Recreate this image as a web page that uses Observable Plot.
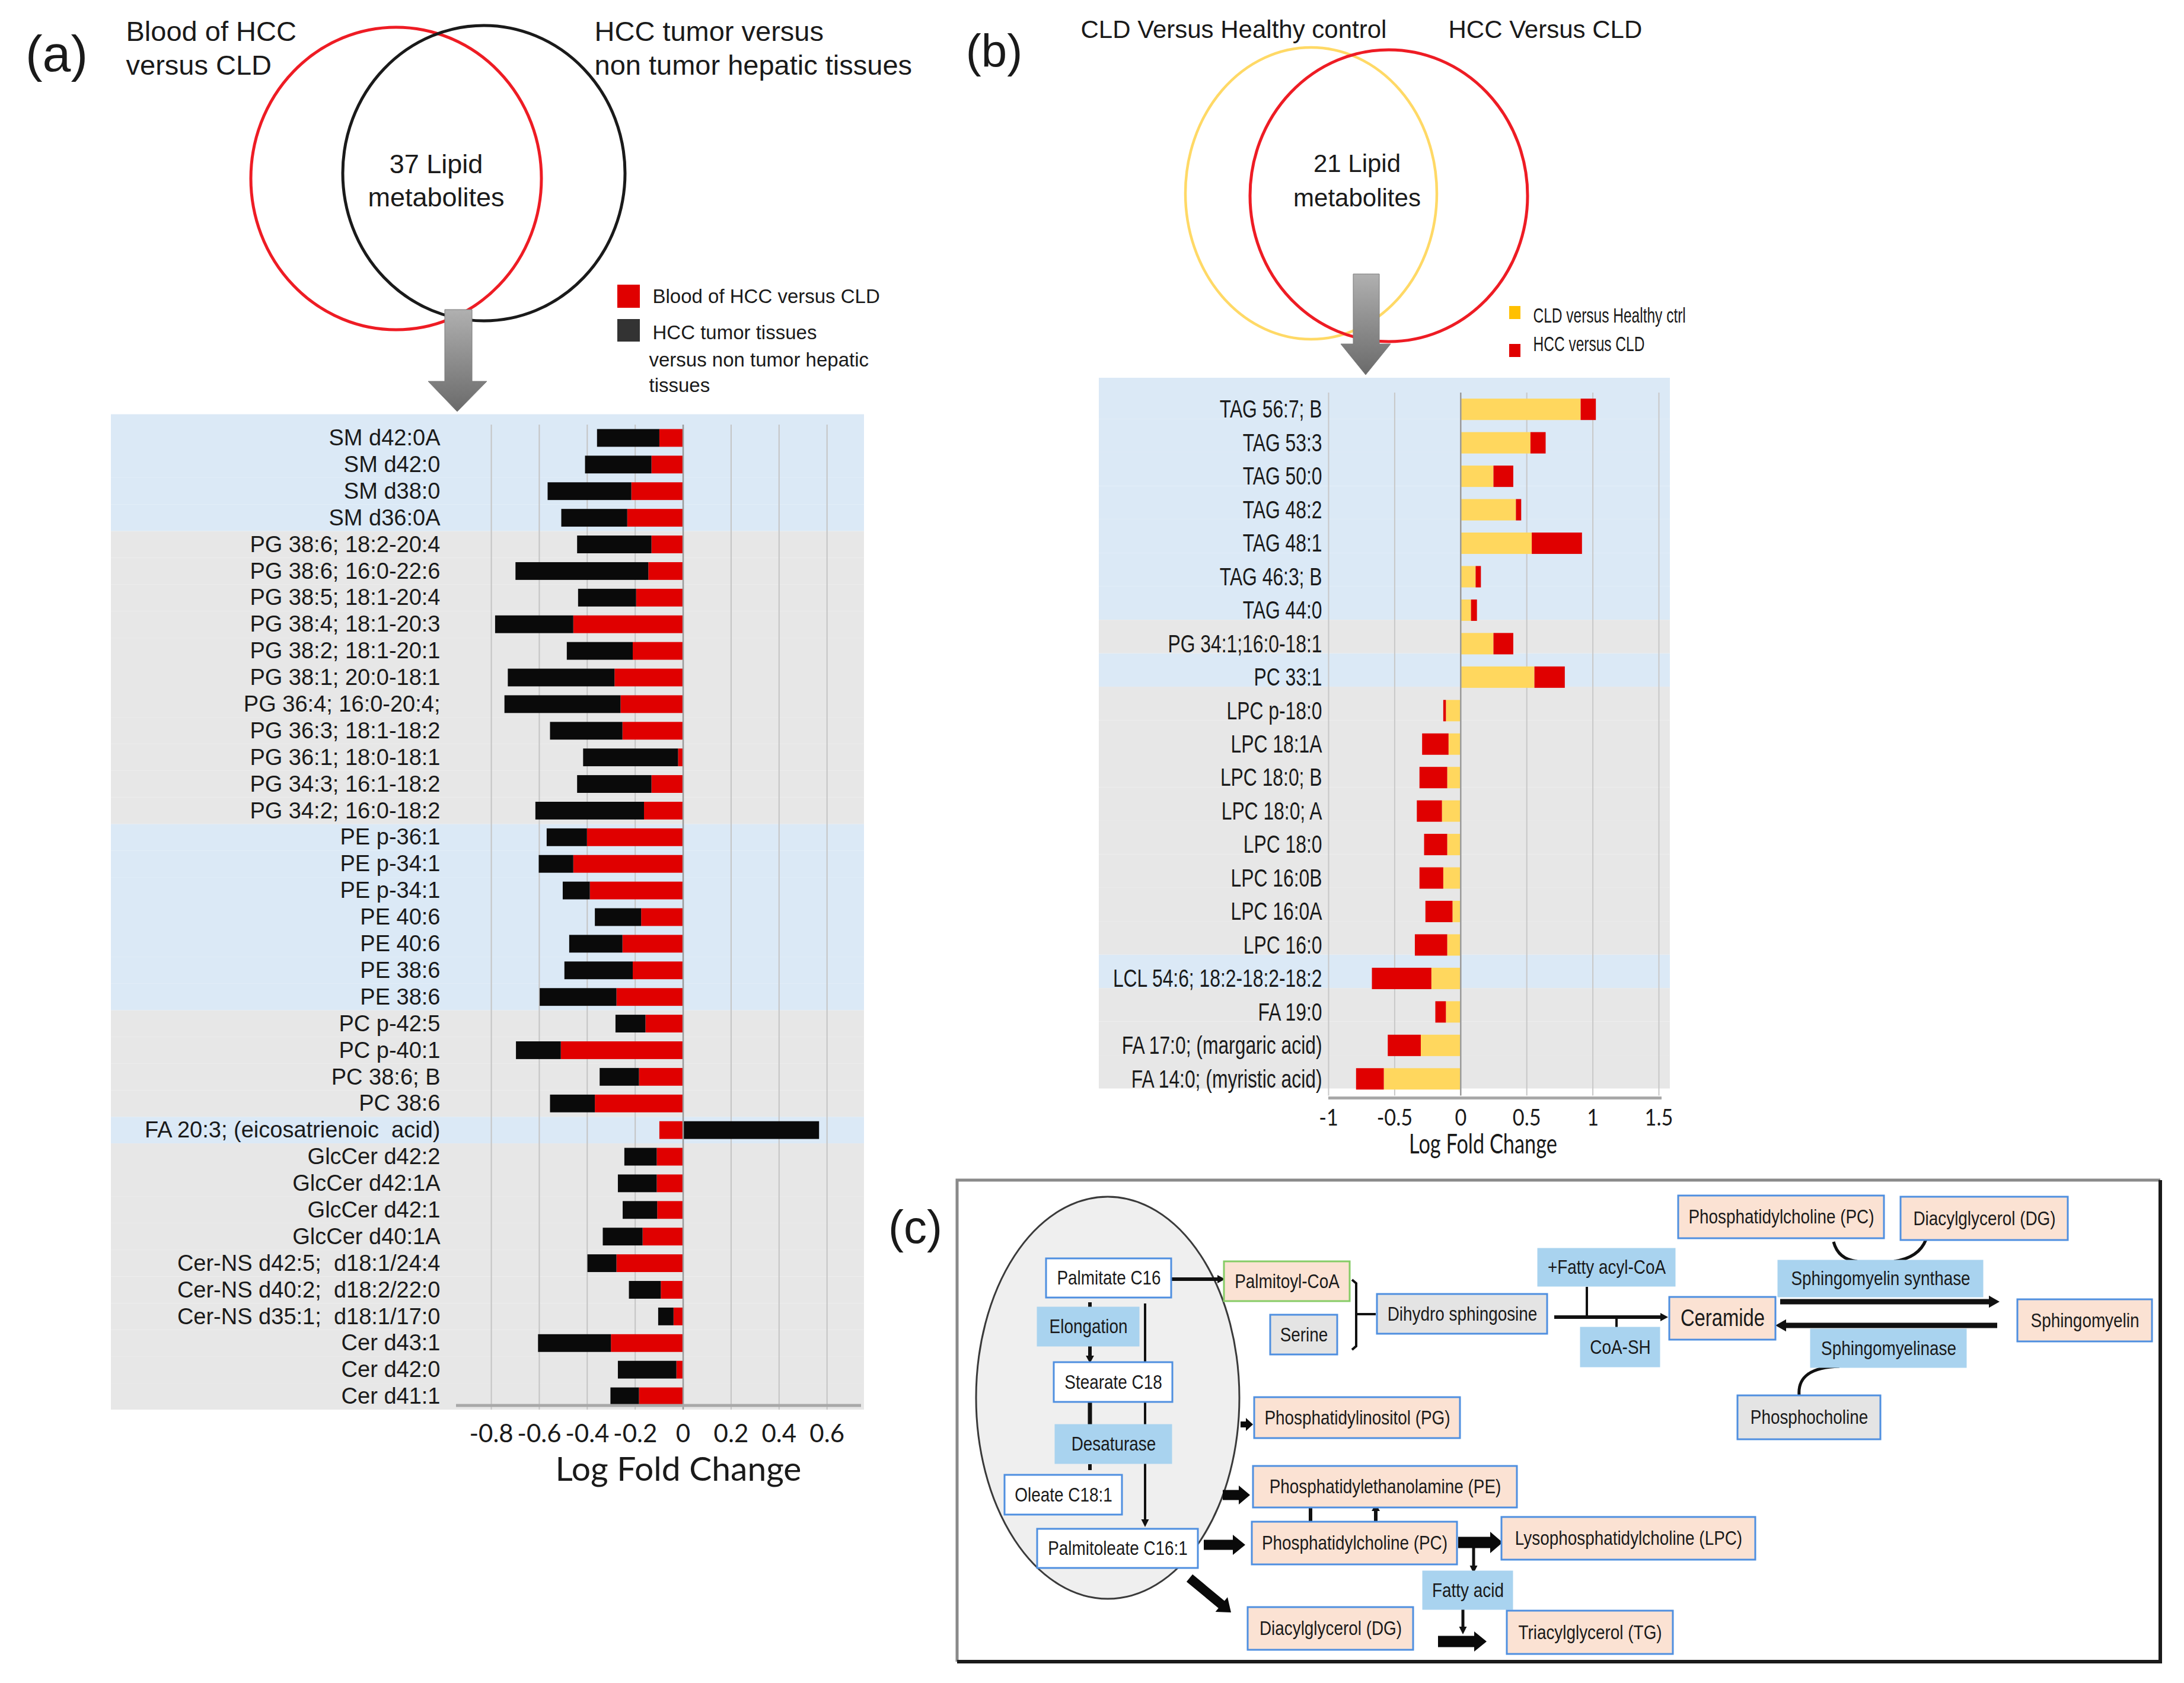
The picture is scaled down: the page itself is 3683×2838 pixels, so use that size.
<!DOCTYPE html>
<html><head><meta charset="utf-8">
<script src="https://cdn.jsdelivr.net/npm/d3@7"></script>
<script src="https://cdn.jsdelivr.net/npm/@observablehq/plot@0.6"></script>
<style>
html,body{margin:0;padding:0;background:#fff;}
#page{position:relative;width:3683px;height:2838px;overflow:hidden;background:#fff;}
#page svg{position:absolute;overflow:visible;}
</style></head><body><div id="page"></div>
<script>
// ================= DATA =================
// Panel (a): 37 lipid metabolites
const lipidsA = ["SM d42:0A","SM d42:0","SM d38:0","SM d36:0A",
  "PG 38:6; 18:2-20:4","PG 38:6; 16:0-22:6","PG 38:5; 18:1-20:4","PG 38:4; 18:1-20:3","PG 38:2; 18:1-20:1",
  "PG 38:1; 20:0-18:1","PG 36:4; 16:0-20:4;","PG 36:3; 18:1-18:2","PG 36:1; 18:0-18:1","PG 34:3; 16:1-18:2","PG 34:2; 16:0-18:2",
  "PE p-36:1","PE p-34:1","PE p-34:1","PE 40:6","PE 40:6","PE 38:6","PE 38:6",
  "PC p-42:5","PC p-40:1","PC 38:6; B","PC 38:6",
  "FA 20:3; (eicosatrienoic\u00a0 acid)",
  "GlcCer d42:2","GlcCer d42:1A","GlcCer d42:1","GlcCer d40:1A",
  "Cer-NS d42:5;\u00a0 d18:1/24:4","Cer-NS d40:2;\u00a0 d18:2/22:0","Cer-NS d35:1;\u00a0 d18:1/17:0",
  "Cer d43:1","Cer d42:0","Cer d41:1"];
const groupsA = ["SM","SM","SM","SM",
  "PG","PG","PG","PG","PG","PG","PG","PG","PG","PG","PG",
  "PE","PE","PE","PE","PE","PE","PE",
  "PC","PC","PC","PC",
  "FA",
  "GlcCer","GlcCer","GlcCer","GlcCer",
  "Cer-NS","Cer-NS","Cer-NS",
  "Cer","Cer","Cer"];
const seriesA = ["Blood of HCC versus CLD", "HCC tumor tissues versus non tumor hepatic tissues"];
const bloodHCCvsCLD = [-0.098,-0.131,-0.215,-0.232,
  -0.131,-0.144,-0.195,-0.457,-0.209,-0.285,-0.26,-0.252,-0.02,-0.131,-0.162,
  -0.40,-0.457,-0.388,-0.174,-0.252,-0.209,-0.277,
  -0.156,-0.509,-0.183,-0.367,
  -0.098,
  -0.109,-0.109,-0.107,-0.168,
  -0.277,-0.092,-0.039,
  -0.30,-0.027,-0.183];
const tumorVsNonTumor = [-0.26,-0.277,-0.349,-0.275,
  -0.31,-0.554,-0.242,-0.326,-0.275,-0.445,-0.484,-0.302,-0.396,-0.31,-0.453,
  -0.168,-0.144,-0.113,-0.193,-0.222,-0.285,-0.32,
  -0.125,-0.187,-0.164,-0.187,
  0.568,
  -0.135,-0.162,-0.144,-0.166,
  -0.121,-0.133,-0.064,
  -0.304,-0.244,-0.119];
const ticksA = [-0.8,-0.6,-0.4,-0.2,0,0.2,0.4,0.6];

// Panel (b): 21 lipid metabolites
const lipidsB = ["TAG 56:7; B","TAG 53:3","TAG 50:0","TAG 48:2","TAG 48:1","TAG 46:3; B","TAG 44:0",
  "PG 34:1;16:0-18:1","PC 33:1",
  "LPC p-18:0","LPC 18:1A","LPC 18:0; B","LPC 18:0; A","LPC 18:0","LPC 16:0B","LPC 16:0A","LPC 16:0",
  "LCL 54:6; 18:2-18:2-18:2",
  "FA 19:0","FA 17:0; (margaric acid)","FA 14:0; (myristic acid)"];
const groupsB = ["TAG","TAG","TAG","TAG","TAG","TAG","TAG","PG","PC",
  "LPC","LPC","LPC","LPC","LPC","LPC","LPC","LPC","LCL","FA","FA","FA"];
const seriesB = ["CLD versus Healthy ctrl", "HCC versus CLD"];
const cldVsHealthy = [0.91,0.53,0.25,0.42,0.54,0.115,0.08,0.25,0.56,
  -0.11,-0.09,-0.10,-0.14,-0.10,-0.13,-0.06,-0.10,-0.22,-0.11,-0.30,-0.58];
const hccVsCld = [0.115,0.115,0.15,0.04,0.38,0.04,0.045,0.15,0.23,
  -0.02,-0.20,-0.21,-0.19,-0.175,-0.18,-0.205,-0.245,-0.45,-0.08,-0.25,-0.21];
const ticksB = [-1,-0.5,0,0.5,1,1.5];

// ================= STYLE =================
const ARIAL = "'Liberation Sans', Arial, Helvetica, sans-serif";
const CALIBRI = "Lato, 'Open Sans', sans-serif";
const RED = "#e00000", BLACK = "#0a0a0a", YELLOW = "#ffd75e";
const BAND_BLUE = "#dbe9f6", BAND_GRAY = "#e7e7e7";
const bandA = {SM: BAND_BLUE, PG: BAND_GRAY, PE: BAND_BLUE, PC: BAND_GRAY, FA: BAND_BLUE, GlcCer: BAND_GRAY, "Cer-NS": BAND_GRAY, Cer: BAND_GRAY};
const bandB = {TAG: BAND_BLUE, PG: BAND_GRAY, PC: BAND_BLUE, LPC: BAND_GRAY, LCL: BAND_BLUE, FA: BAND_GRAY};
const fmt = d => d === 0 ? "0" : String(d);

const page = document.getElementById("page");
function place(svg, left, top) {
  svg.style.left = left + "px"; svg.style.top = top + "px";
  page.appendChild(svg);
  return svg;
}
function condenseNodes(nodes, k) {
  nodes.forEach(t => {
    const w = t.getComputedTextLength();
    if (w > 0) { t.setAttribute("textLength", (w * k).toFixed(1)); t.setAttribute("lengthAdjust", "spacingAndGlyphs"); }
  });
}
function condense(root, selector, k) { condenseNodes(Array.from(root.querySelectorAll(selector)), k); }
const axisLine = (dy, extraL, extraR, color, w) => (index, scales, values, dims) => {
  const y = dims.height - dims.marginBottom + dy;
  return d3.create("svg:line")
    .attr("x1", dims.marginLeft - extraL).attr("x2", dims.width - dims.marginRight + extraR)
    .attr("y1", y).attr("y2", y).attr("stroke", color).attr("stroke-width", w).node();
};

// ================= DECOR (Venn diagrams, legends, panel letters) =================
const vennEllipses = [
  {cx: 668, cy: 301, rx: 245, ry: 255, stroke: "#ee1c24", w: 5},
  {cx: 816, cy: 292, rx: 238, ry: 249, stroke: "#1a1a1a", w: 5},
  {cx: 2211, cy: 326, rx: 212, ry: 246, stroke: "#ffd966", w: 4.5},
  {cx: 2342, cy: 330, rx: 234, ry: 246, stroke: "#ee1c24", w: 5}
];
const vennArrows = [
  [[750,522],[796,522],[796,643],[821,643],[771,694],[722,643],[750,643]],
  [[2282,462],[2326,462],[2326,580],[2345,580],[2303,632],[2261,580],[2282,580]]
];
const decorTextStart = [
  {t: "Blood of HCC", x: 212, y: 53, s: 47},
  {t: "versus CLD", x: 212, y: 110, s: 47},
  {t: "HCC tumor versus", x: 1002, y: 53, s: 47},
  {t: "non tumor hepatic tissues", x: 1002, y: 110, s: 47},
  {t: "Blood of HCC versus CLD", x: 1100, y: 500, s: 33},
  {t: "HCC tumor tissues", x: 1100, y: 561, s: 33},
  {t: "versus non tumor hepatic", x: 1094, y: 607, s: 33},
  {t: "tissues", x: 1094, y: 650, s: 33},
  {t: "CLD Versus Healthy control", x: 1822, y: 50, s: 42},
  {t: "HCC Versus CLD", x: 2442, y: 50, s: 42},
  {t: seriesB[0], x: 2585, y: 532, s: 35},
  {t: seriesB[1], x: 2585, y: 580, s: 35}
];
const decorTextMiddle = [
  {t: "(a)", x: 95, y: 92, s: 86},
  {t: "(b)", x: 1676, y: 88, s: 78},
  {t: "(c)", x: 1543, y: 2071, s: 78},
  {t: "37 Lipid", x: 735, y: 277, s: 45},
  {t: "metabolites", x: 735, y: 333, s: 45},
  {t: "21 Lipid", x: 2288, y: 276, s: 42},
  {t: "metabolites", x: 2288, y: 334, s: 42}
];
const legendSquares = [
  {x1: 1041, x2: 1079, y1: 480, y2: 519, c: RED},
  {x1: 1041, x2: 1079, y1: 538, y2: 576, c: "#333333"},
  {x1: 2545, x2: 2564, y1: 516, y2: 538, c: "#ffc000"},
  {x1: 2545, x2: 2564, y1: 580, y2: 602, c: RED}
];

const decor = Plot.plot({
  width: 3683, height: 2838, margin: 0,
  x: {type: "identity", axis: null}, y: {type: "identity", axis: null},
  color: {type: "identity"},
  style: {background: "transparent", overflow: "visible", fontFamily: ARIAL},
  marks: [
    () => {
      const g = d3.create("svg:g");
      const grad = g.append("defs").append("linearGradient").attr("id", "vennArrowGrad")
        .attr("x1", 0).attr("y1", 0).attr("x2", 0).attr("y2", 1);
      grad.append("stop").attr("offset", "0%").attr("stop-color", "#b0b0b0");
      grad.append("stop").attr("offset", "100%").attr("stop-color", "#6a6a6a");
      for (const e of vennEllipses) g.append("ellipse").attr("cx", e.cx).attr("cy", e.cy).attr("rx", e.rx).attr("ry", e.ry)
        .attr("fill", "none").attr("stroke", e.stroke).attr("stroke-width", e.w);
      for (const a of vennArrows) g.append("polygon").attr("points", a.map(p => p.join(",")).join(" "))
        .attr("fill", "url(#vennArrowGrad)").attr("stroke", "#7a7a7a").attr("stroke-width", 1);
      return g.node();
    },
    Plot.rect(legendSquares, {x1: "x1", x2: "x2", y1: "y1", y2: "y2", fill: "c"}),
    Plot.text(decorTextStart, {x: "x", y: "y", text: "t", fontSize: "s", textAnchor: "start", lineAnchor: "middle", fill: "#1a1a1a"}),
    Plot.text(decorTextMiddle, {x: "x", y: "y", text: "t", fontSize: "s", textAnchor: "middle", lineAnchor: "middle", fill: "#1a1a1a"})
  ]
});
place(decor, 0, 0);

// ================= PANEL (a) CHART =================
const rowsA = lipidsA.map((name, i) => ({i, name, group: groupsA[i]}));
const longA = [];
lipidsA.forEach((n, i) => {
  longA.push({i, series: seriesA[0], value: bloodHCCvsCLD[i]});
  longA.push({i, series: seriesA[1], value: tumorVsNonTumor[i]});
});
const A = {left: 187, top: 715.5, mL: 582, mR: 10, plotH: 1661, mB: 150, x0: -0.946, x1: 0.743};
const chartA = Plot.plot({
  width: 1275, height: A.plotH + A.mB,
  marginLeft: A.mL, marginRight: A.mR, marginTop: 0, marginBottom: A.mB,
  x: {domain: [A.x0, A.x1]},
  y: {domain: d3.range(lipidsA.length), padding: 0, round: false},
  color: {domain: seriesA, range: [RED, BLACK]},
  style: {background: "transparent", overflow: "visible", fontFamily: ARIAL, color: "#1a1a1a"},
  marks: [
    Plot.barX(rowsA, {filter: d => bandA[d.group] === BAND_BLUE, y: "i", x1: A.x0, x2: A.x1, fill: BAND_BLUE, insetLeft: -A.mL, insetRight: -5}),
    Plot.barX(rowsA, {filter: d => bandA[d.group] === BAND_GRAY, y: "i", x1: A.x0, x2: A.x1, fill: BAND_GRAY, insetLeft: -A.mL, insetRight: -5}),
    Plot.barX(rowsA.slice(0, 1), {y: "i", x1: A.x0, x2: A.x1, fill: bandA[groupsA[0]], insetLeft: -A.mL, insetRight: -5, insetTop: -17.5}),
    Plot.ruleX(ticksA.filter(d => d !== 0), {stroke: "#c4c4c4", strokeWidth: 2}),
    Plot.barX(longA, Plot.stackX({y: "i", x: "value", fill: "series", insetTop: 7.5, insetBottom: 7.5})),
    Plot.ruleX([0], {stroke: "#9a9a9a", strokeWidth: 2.5}),
    axisLine(-7, 0, 0, "#a8a8a8", 5),
    Plot.axisY({tickFormat: i => lipidsA[i], tickSize: 0, tickPadding: 27, fontSize: 38, label: null}),
    Plot.axisX({ticks: ticksA, tickFormat: fmt, tickSize: 0, tickPadding: 25, fontSize: 42, fontFamily: CALIBRI, label: null}),
    Plot.text(["Log Fold Change"], {text: d => d, frameAnchor: "bottom", dy: 101, dx: 33, fontSize: 57, fontFamily: CALIBRI, lineAnchor: "middle"})
  ]
});
place(chartA, A.left, A.top);

// ================= PANEL (b) CHART =================
const rowsB = lipidsB.map((name, i) => ({i, name, group: groupsB[i]}));
const longB = [];
lipidsB.forEach((n, i) => {
  longB.push({i, series: seriesB[0], value: cldVsHealthy[i]});
  longB.push({i, series: seriesB[1], value: hccVsCld[i]});
});
const B = {left: 1853, top: 661.8, mL: 387, mR: 19, plotH: 1185.5, mB: 130};
const chartB = Plot.plot({
  width: 963, height: B.plotH + B.mB,
  marginLeft: B.mL, marginRight: B.mR, marginTop: 0, marginBottom: B.mB,
  x: {domain: [-1, 1.5]},
  y: {domain: d3.range(lipidsB.length), padding: 0, round: false},
  color: {domain: seriesB, range: [YELLOW, RED]},
  style: {background: "transparent", overflow: "visible", fontFamily: ARIAL, color: "#1a1a1a"},
  marks: [
    Plot.barX(rowsB, {filter: d => bandB[d.group] === BAND_BLUE, y: "i", x1: -1, x2: 1.5, fill: BAND_BLUE, insetLeft: -B.mL, insetRight: -B.mR, dy: -12}),
    Plot.barX(rowsB, {filter: d => bandB[d.group] === BAND_GRAY, y: "i", x1: -1, x2: 1.5, fill: BAND_GRAY, insetLeft: -B.mL, insetRight: -B.mR, dy: -12}),
    Plot.barX(rowsB.slice(0, 1), {y: "i", x1: -1, x2: 1.5, fill: bandB[groupsB[0]], insetLeft: -B.mL, insetRight: -B.mR, insetTop: -13, dy: -12}),
    Plot.ruleX(ticksB.filter(d => d !== 0), {stroke: "#c8c8c8", strokeWidth: 2}),
    Plot.barX(longB, Plot.stackX({y: "i", x: "value", fill: "series", insetTop: 10.2, insetBottom: 10.2})),
    Plot.ruleX([0], {stroke: "#9a9a9a", strokeWidth: 2.5}),
    axisLine(4, 0, 5, "#a8a8a8", 5),
    Plot.axisY({tickFormat: i => lipidsB[i], tickSize: 0, tickPadding: 11, fontSize: 43, label: null}),
    Plot.axisX({ticks: ticksB, tickFormat: fmt, tickSize: 0, tickPadding: 23, fontSize: 38, fontFamily: CALIBRI, label: null}),
    Plot.text(["Log Fold Change"], {text: d => d, frameAnchor: "bottom", dy: 82, dx: -18, fontSize: 47, fontFamily: CALIBRI, lineAnchor: "middle"})
  ]
});
place(chartB, B.left, B.top);

// ================= PANEL (c) PATHWAY DIAGRAM =================
const BLUE_EDGE = "#4f8fe0", GREEN_EDGE = "#86cc66";
const kindStyle = {
  white:  {fill: "#ffffff", stroke: BLUE_EDGE},
  enzyme: {fill: "#a9d3ef", stroke: "#a9d3ef"},
  lipid:  {fill: "#fbe2d3", stroke: BLUE_EDGE},
  gray:   {fill: "#e4e4e4", stroke: BLUE_EDGE},
  acyl:   {fill: "#fbe2d3", stroke: GREEN_EDGE}
};
const nodesC = [
  {t: "Palmitate C16", x1: 1764, x2: 1975, y1: 2122, y2: 2188, k: "white"},
  {t: "Elongation", x1: 1750, x2: 1920, y1: 2205, y2: 2269, k: "enzyme"},
  {t: "Stearate C18", x1: 1777, x2: 1977, y1: 2297, y2: 2364, k: "white"},
  {t: "Desaturase", x1: 1780, x2: 1975, y1: 2403, y2: 2467, k: "enzyme"},
  {t: "Oleate C18:1", x1: 1694, x2: 1892, y1: 2487, y2: 2554, k: "white"},
  {t: "Palmitoleate C16:1", x1: 1749, x2: 2020, y1: 2578, y2: 2644, k: "white"},
  {t: "Palmitoyl-CoA", x1: 2064, x2: 2276, y1: 2127, y2: 2194, k: "acyl"},
  {t: "Serine", x1: 2142, x2: 2255, y1: 2217, y2: 2284, k: "gray"},
  {t: "Dihydro sphingosine", x1: 2322, x2: 2609, y1: 2182, y2: 2249, k: "gray"},
  {t: "Phosphatidylinositol (PG)", x1: 2115, x2: 2462, y1: 2356, y2: 2425, k: "lipid"},
  {t: "Phosphatidylethanolamine (PE)", x1: 2113, x2: 2558, y1: 2472, y2: 2542, k: "lipid"},
  {t: "Phosphatidylcholine (PC)", x1: 2111, x2: 2457, y1: 2566, y2: 2638, k: "lipid"},
  {t: "Fatty acid", x1: 2400, x2: 2550, y1: 2650, y2: 2713, k: "enzyme"},
  {t: "Diacylglycerol (DG)", x1: 2104, x2: 2383, y1: 2710, y2: 2782, k: "lipid"},
  {t: "Lysophosphatidylcholine (LPC)", x1: 2532, x2: 2960, y1: 2558, y2: 2630, k: "lipid"},
  {t: "Triacylglycerol (TG)", x1: 2541, x2: 2821, y1: 2716, y2: 2789, k: "lipid"},
  {t: "+Fatty acyl-CoA", x1: 2594, x2: 2824, y1: 2106, y2: 2168, k: "enzyme"},
  {t: "CoA-SH", x1: 2666, x2: 2798, y1: 2239, y2: 2304, k: "enzyme"},
  {t: "Ceramide", x1: 2815, x2: 2994, y1: 2187, y2: 2259, k: "lipid", big: true},
  {t: "Phosphatidylcholine (PC)", x1: 2830, x2: 3177, y1: 2016, y2: 2088, k: "lipid"},
  {t: "Diacylglycerol (DG)", x1: 3205, x2: 3487, y1: 2018, y2: 2091, k: "lipid"},
  {t: "Sphingomyelin synthase", x1: 2999, x2: 3343, y1: 2126, y2: 2186, k: "enzyme"},
  {t: "Sphingomyelin", x1: 3402, x2: 3629, y1: 2191, y2: 2262, k: "lipid"},
  {t: "Sphingomyelinase", x1: 3054, x2: 3315, y1: 2242, y2: 2305, k: "enzyme"},
  {t: "Phosphocholine", x1: 2930, x2: 3171, y1: 2353, y2: 2427, k: "gray"}
];
const thinLinks = [
  {a: [1975, 2157], b: [2066, 2157], w: 6, head: true},
  {a: [1931, 2198], b: [1931, 2575], w: 4, head: true},
  {a: [1838, 2196], b: [1838, 2205], w: 6, head: false},
  {a: [1838, 2269], b: [1838, 2299], w: 6, head: true},
  {a: [1838, 2364], b: [1838, 2403], w: 7, head: false},
  {a: [1838, 2469], b: [1838, 2479], w: 6, head: false},
  {a: [2621, 2221], b: [2813, 2221], w: 6, head: true},
  {a: [2676, 2170], b: [2676, 2221], w: 4, head: false},
  {a: [2726, 2221], b: [2726, 2240], w: 4, head: false},
  {a: [3002, 2195], b: [3372, 2195], w: 9, head: true},
  {a: [3368, 2235], b: [2994, 2235], w: 9, head: true},
  {a: [2210, 2538], b: [2210, 2579], w: 6, head: true},
  {a: [2320, 2578], b: [2320, 2535], w: 6, head: true},
  {a: [2485, 2606], b: [2485, 2653], w: 5, head: true},
  {a: [2467, 2713], b: [2467, 2756], w: 5, head: true}
];
const blockArrows = [
  {a: [2092, 2402], b: [2113, 2402], s: 10, hw: 22, hl: 12},
  {a: [2062, 2521], b: [2108, 2521], s: 17, hw: 32, hl: 19},
  {a: [2030, 2605], b: [2100, 2605], s: 17, hw: 34, hl: 21},
  {a: [2006, 2661], b: [2076, 2719], s: 16, hw: 32, hl: 21},
  {a: [2459, 2601], b: [2534, 2601], s: 19, hw: 36, hl: 21},
  {a: [2425, 2768], b: [2507, 2768], s: 19, hw: 34, hl: 21}
];
const curvePaths = [
  {d: "M2280,2158 L2287,2164 L2287,2270 L2280,2276 M2287,2216 L2320,2216", w: 4},
  {d: "M3092,2094 Q3100,2124 3132,2127", w: 5},
  {d: "M3248,2090 Q3236,2121 3194,2127", w: 5},
  {d: "M3034,2353 Q3030,2306 3102,2304", w: 5}
];
const frameC = {x1: 1614, x2: 3643, y1: 1990, y2: 2802};
const cellC = {cx: 1868, cy: 2357, rx: 222, ry: 339};

function arrowHeadPts(a, b, hl, hw) {
  const dx = b[0] - a[0], dy = b[1] - a[1], L = Math.hypot(dx, dy);
  const u = [dx / L, dy / L], n = [-u[1], u[0]];
  const base = [b[0] - u[0] * hl, b[1] - u[1] * hl];
  return {u, n, base, pts: [[base[0] + n[0] * hw / 2, base[1] + n[1] * hw / 2], b, [base[0] - n[0] * hw / 2, base[1] - n[1] * hw / 2]]};
}

const panelC = Plot.plot({
  width: 3683, height: 2838, margin: 0,
  x: {type: "identity", axis: null}, y: {type: "identity", axis: null},
  color: {type: "identity"},
  style: {background: "transparent", overflow: "visible", fontFamily: ARIAL},
  marks: [
    () => {
      const g = d3.create("svg:g");
      g.append("ellipse").attr("cx", cellC.cx).attr("cy", cellC.cy).attr("rx", cellC.rx).attr("ry", cellC.ry)
        .attr("fill", "#efefef").attr("stroke", "#3a3a3a").attr("stroke-width", 3);
      g.append("path").attr("d", `M${frameC.x1},${frameC.y2} L${frameC.x1},${frameC.y1} L${frameC.x2},${frameC.y1}`)
        .attr("fill", "none").attr("stroke", "#8a8a8a").attr("stroke-width", 5);
      g.append("path").attr("d", `M${frameC.x2},${frameC.y1} L${frameC.x2},${frameC.y2} L${frameC.x1},${frameC.y2}`)
        .attr("fill", "none").attr("stroke", "#1a1a1a").attr("stroke-width", 6);
      for (const c of curvePaths) g.append("path").attr("d", c.d).attr("fill", "none").attr("stroke", "#111").attr("stroke-width", c.w);
      for (const l of thinLinks) {
        if (l.head) {
          const hl = Math.max(13, l.w * 2), hw = Math.max(13, l.w * 2.3);
          const h = arrowHeadPts(l.a, l.b, hl, hw);
          g.append("line").attr("x1", l.a[0]).attr("y1", l.a[1]).attr("x2", h.base[0] + h.u[0] * 2).attr("y2", h.base[1] + h.u[1] * 2)
            .attr("stroke", "#111").attr("stroke-width", l.w);
          g.append("polygon").attr("points", h.pts.map(p => p.join(",")).join(" ")).attr("fill", "#111");
        } else {
          g.append("line").attr("x1", l.a[0]).attr("y1", l.a[1]).attr("x2", l.b[0]).attr("y2", l.b[1])
            .attr("stroke", "#111").attr("stroke-width", l.w);
        }
      }
      for (const ba of blockArrows) {
        const h = arrowHeadPts(ba.a, ba.b, ba.hl, ba.hw);
        const s = ba.s / 2, n = h.n;
        const pts = [[ba.a[0] + n[0] * s, ba.a[1] + n[1] * s], [h.base[0] + n[0] * s, h.base[1] + n[1] * s], h.pts[0], h.pts[1], h.pts[2],
          [h.base[0] - n[0] * s, h.base[1] - n[1] * s], [ba.a[0] - n[0] * s, ba.a[1] - n[1] * s]];
        g.append("polygon").attr("points", pts.map(p => p.join(",")).join(" ")).attr("fill", "#0a0a0a");
      }
      return g.node();
    },
    Plot.rect(nodesC, {x1: "x1", x2: "x2", y1: "y1", y2: "y2", fill: d => kindStyle[d.k].fill, stroke: d => kindStyle[d.k].stroke, strokeWidth: 3}),
    Plot.text(nodesC, {x: d => (d.x1 + d.x2) / 2, y: d => (d.y1 + d.y2) / 2, text: "t", fontSize: d => d.big ? 40 : 34, lineAnchor: "middle", fill: "#1a1a1a"})
  ]
});
place(panelC, 0, 0);

// ================= condensed (narrow) fonts as in the original =================
condense(panelC, "text", 0.82);
condense(chartB, 'g[aria-label="y-axis tick label"] text', 0.74);
condense(chartB, 'g[aria-label="x-axis tick label"] text', 0.9);
condense(chartB, 'g[aria-label="text"] text', 0.73);
condenseNodes(Array.from(decor.querySelectorAll("text")).filter(t => seriesB.includes(t.textContent)), 0.70);
</script>
</body></html>
